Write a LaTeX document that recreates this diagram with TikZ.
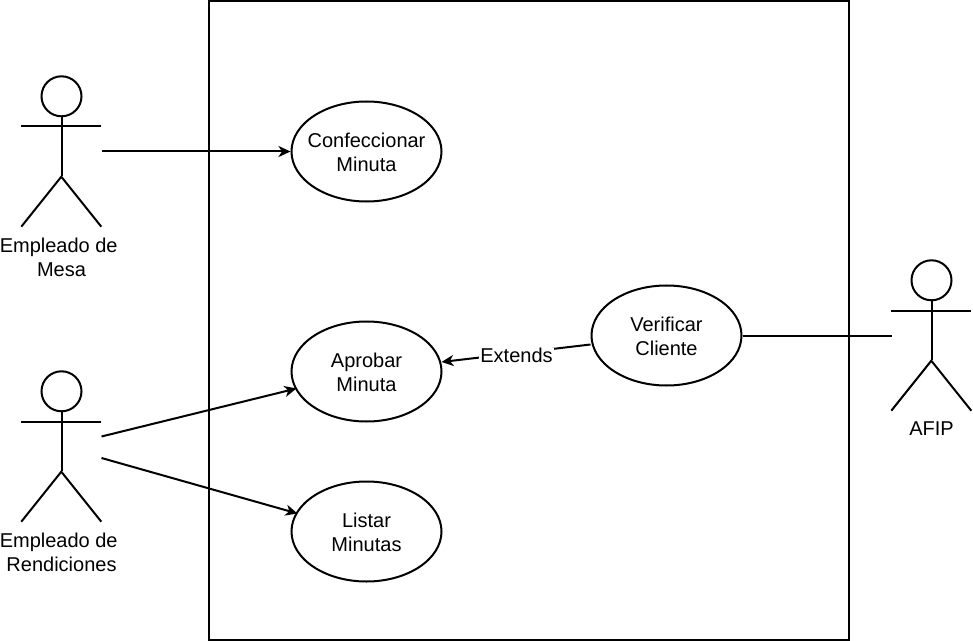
\documentclass[tikz,border=0pt]{standalone}
\usepackage{fontspec}
\setmainfont{Liberation Sans}
\usetikzlibrary{shapes.geometric,arrows.meta}
\tikzset{
  uc/.style={draw,ellipse,line width=2bp,minimum width=150bp,minimum height=100bp,inner ysep=0pt,inner xsep=-10bp,font=\fontsize{20bp}{24bp}\selectfont},
  lbl/.style={align=center,font=\fontsize{20bp}{24bp}\selectfont,inner sep=0pt},
  ln/.style={line width=2bp},
  arr/.style={ln,-{Stealth[length=12bp,width=11bp,inset=3.5bp]}},
  actorbox/.style={minimum width=80bp,minimum height=150bp,inner sep=0pt}
}
\newcommand{\actor}[1]{%
  \draw[ln] (#1.north) ++(0,20) circle (20);
  \draw[ln] (#1.north) ++(0,40) -- ++(0,60);
  \draw[ln] (#1.west) ++(0,-25) -- ++(80,0);
  \draw[ln] (#1.south west) -- ++(40,-50) -- ++(40,50);
}
\newcommand{\twolines}[2]{\raisebox{-8.2bp}[20bp][20bp]{\begin{tabular}{@{}c@{}}#1\\#2\end{tabular}}}
\begin{document}
\begin{tikzpicture}[x=1bp,y=-1bp]
\useasboundingbox (0,0) rectangle (973,641);
\node[draw,line width=2bp,minimum width=639bp,minimum height=639bp,inner sep=0pt] (sys) at (529,320.5) {};
\node[actorbox] (a1) at (61.5,151.5) {};
\node[actorbox] (a2) at (61.5,446.5) {};
\node[actorbox] (a3) at (931.5,335.5) {};
\actor{a1}\actor{a2}\actor{a3}
\node[lbl] (t1) at (61.5,257) {Empleado de\hbox{\ }\\Mesa};
\node[lbl] (t2) at (61.5,552) {Empleado de\hbox{\ }\\Rendiciones};
\node[lbl] (t3) at (931.5,429) {AFIP};
\node[uc] (c) at (366.5,151.5) {\twolines{Confeccionar}{Minuta}};
\node[uc] (ap) at (366.5,371.5) {\twolines{Aprobar}{Minuta}};
\node[uc] (li) at (366.5,531.5) {\twolines{Listar}{Minutas}};
\node[uc] (v) at (666.5,335.5) {\twolines{Verificar}{Cliente}};
\coordinate (a1r) at (101.5,151.5);
\coordinate (a2u) at (101.5,436.5);
\coordinate (a2d) at (101.5,458);
\coordinate (a3l) at (891.5,335.5);
\draw[arr] (a1r) -- (c.west);
\draw[arr] (a2u) -- (296.5,388.5);
\draw[arr] (a2d) -- (297.5,513.5);
\draw[ln] (v.east) -- (a3l);
\draw[arr] (v.west |- 0,344.5) -- (441.5,362);
\node[lbl,fill=white,inner xsep=1bp,inner ysep=0pt] (ex) at (516.5,355) {Extends};
\end{tikzpicture}
\end{document}
